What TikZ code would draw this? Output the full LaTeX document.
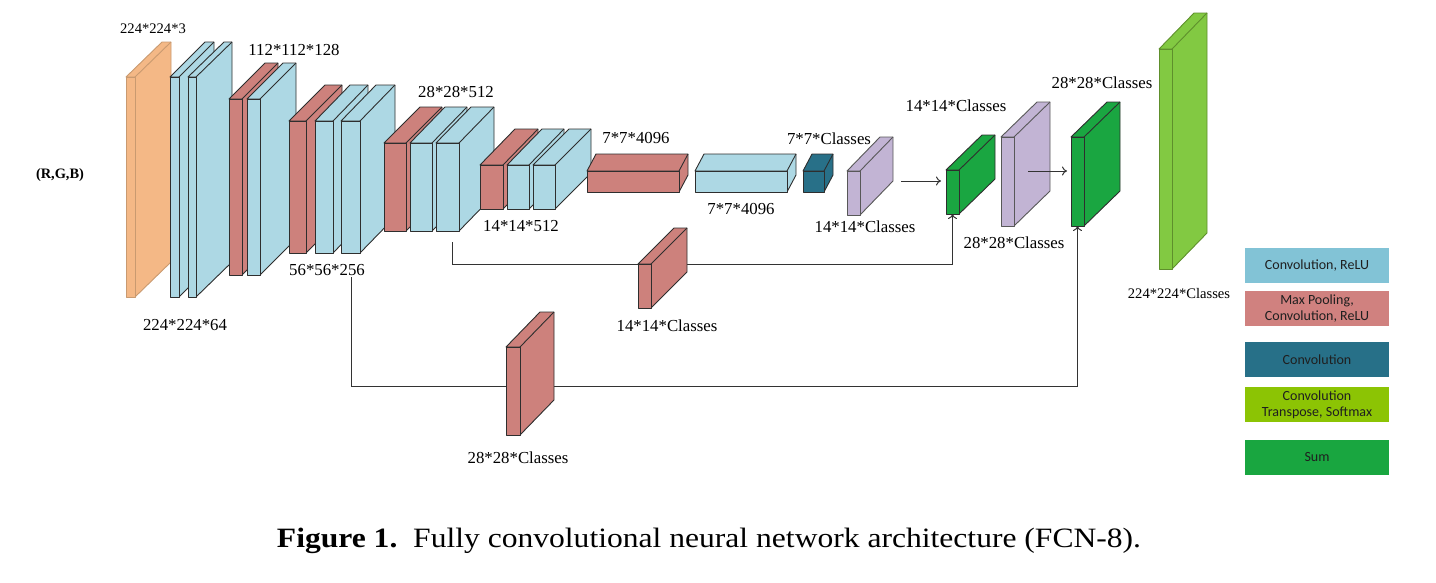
\documentclass[tikz,border=0pt]{standalone}
\usepackage{fontspec}
\setmainfont{Liberation Serif}
\newfontfamily\legfont{Carlito}
\usetikzlibrary{arrows.meta,backgrounds}
\definecolor{corange}{HTML}{F4B886}
\definecolor{corangeE}{HTML}{C99A70}
\definecolor{cblue}{HTML}{ADD8E4}
\definecolor{cred}{HTML}{CD817C}
\definecolor{cteal}{HTML}{287088}
\definecolor{cpurple}{HTML}{C2B4D4}
\definecolor{cgreen}{HTML}{1AA641}
\definecolor{clime}{HTML}{82C942}
\definecolor{climeE}{HTML}{5E8F2C}
\definecolor{cedge}{HTML}{2E2E2E}
\definecolor{lblue}{HTML}{82C3D6}
\definecolor{lred}{HTML}{D0817F}
\definecolor{lteal}{HTML}{277088}
\definecolor{llime}{HTML}{8CC404}
\definecolor{lgreen}{HTML}{19A640}
\definecolor{ltext}{HTML}{1F1F1F}
\newcommand{\cuboid}[8]{%
  \filldraw[cubeline,#8] (#2,#3) -- ++(#6,-#7) -- ++(#4,0) -- ++(0,#5) -- ++(-#6,#7) -- ++(0,-#5) -- cycle;
  \draw[cubeline,#8] ({#2+#4},#3) -- ++(#6,-#7);
  \node[cubeline,#8,draw,minimum width=#4pt,minimum height=#5pt,inner sep=0pt,outer sep=0pt,anchor=north west] (#1) at (#2,#3) {};
}
\begin{document}
\begin{tikzpicture}[x=1pt,y=-1pt,
  cubeline/.style={line width=0.9pt,line join=round},
  orangeC/.style={fill=corange,draw=corangeE},
  blueC/.style={fill=cblue,draw=cedge},
  redC/.style={fill=cred,draw=cedge},
  tealC/.style={fill=cteal,draw=cedge},
  purpleC/.style={fill=cpurple,draw=cedge!80},
  greenC/.style={fill=cgreen,draw=cedge},
  limeC/.style={fill=clime,draw=climeE},
  lab/.style={font=\fontsize{16.8}{19}\selectfont,inner sep=0pt},
  slab/.style={font=\fontsize{14.6}{17}\selectfont,inner sep=0pt},
  leg/.style={minimum width=144pt,minimum height=35pt,inner sep=0pt,align=center,text=ltext,font=\legfont\fontsize{14}{17}\selectfont},
  conn/.style={line width=1pt,draw=black!80},
  arr/.style={-{To[length=5pt,width=9pt]}}
]
\useasboundingbox (0,0) rectangle (1436,582);
% encoder
\cuboid{inp}{126}{77}{9}{220}{36}{35}{orangeC}
\cuboid{c11}{170}{77}{9}{220}{35}{35}{blueC}
\cuboid{c12}{188}{77}{8}{220}{36}{35}{blueC}
\cuboid{p2}{229}{99}{13}{176}{36}{36}{redC}
\cuboid{c21}{247}{99}{13}{176}{36}{36}{blueC}
\cuboid{p3}{289}{121}{17}{132}{36}{36}{redC}
\cuboid{c31}{315}{121}{18}{132}{35}{36}{blueC}
\cuboid{c32}{341}{121}{19}{132}{35}{36}{blueC}
\cuboid{p4}{384}{143}{22}{88}{36}{36}{redC}
\cuboid{c41}{410}{143}{22}{88}{35}{36}{blueC}
\cuboid{c42}{436}{143}{23}{88}{35}{36}{blueC}
\cuboid{p5}{480}{165}{23}{44}{35}{36}{redC}
\cuboid{c51}{507}{165}{22}{44}{35}{36}{blueC}
\cuboid{c52}{533}{165}{22}{44}{36}{36}{blueC}
\cuboid{fc6}{587}{171}{92}{21}{9}{17}{redC}
\cuboid{fc7}{695}{171}{92}{21}{9}{17}{blueC}
\cuboid{sc}{803}{171}{21}{21}{9}{17}{tealC}
\cuboid{up1}{847}{171}{13}{44}{33}{34}{purpleC}
\cuboid{g1}{946}{170}{13}{44}{36}{35}{greenC}
\cuboid{up2}{1001}{137}{13}{89}{36}{35}{purpleC}
\cuboid{g2}{1071}{137}{13}{89}{36}{35}{greenC}
\cuboid{out}{1159}{49}{13}{220}{35}{36}{limeC}
% skip score boxes
\cuboid{sk4}{638}{264}{13}{44}{36}{36}{redC}
\cuboid{sk3}{506}{347}{14}{88}{34}{35}{redC}
% connectors
\coordinate (s1) at (452,242);
\coordinate (s1b) at (452,264);
\coordinate (s2) at (351,277);
\coordinate (s2b) at (351,386);
\coordinate (a1) at (901,181);
\coordinate (a2) at (1028,171);
\begin{pgfonlayer}{background}
\draw[conn,arr] (s1) -- (s1b) -| (g1.south);
\draw[conn,arr] (s2) -- (s2b) -| (g2.south);
\end{pgfonlayer}
\draw[conn,arr,shorten >=5pt] (a1) -- (a1 -| g1.west);
\draw[conn,arr,shorten >=4pt] (a2) -- (a2 -| g2.west);
% labels
\node[slab] (t1) at (153,29) {224*224*3};
\node[font=\bfseries\fontsize{14.4}{17}\selectfont,inner sep=0pt] (t2) at (60,175) {(R,G,B)};
\node[lab] (t3) at (294,50) {112*112*128};
\node[lab] (t4) at (185,325) {224*224*64};
\node[lab] (t5) at (327,270) {56*56*256};
\node[lab] (t6) at (456,92) {28*28*512};
\node[lab] (t7) at (521,226) {14*14*512};
\node[lab] (t8) at (636,138) {7*7*4096};
\node[lab] (t9) at (741,209) {7*7*4096};
\node[lab] (t10) at (829,139) {7*7*Classes};
\node[lab] (t11) at (865,227) {14*14*Classes};
\node[lab] (t12) at (667,326) {14*14*Classes};
\node[lab] (t13) at (956,106) {14*14*Classes};
\node[lab] (t14) at (1102,83) {28*28*Classes};
\node[lab] (t15) at (1014,243) {28*28*Classes};
\node[slab] (t16) at (1179,293) {224*224*Classes};
\node[lab] (t17) at (518,458) {28*28*Classes};
% legend
\node[leg,fill=lblue] (l1) at (1317,265.5) {Convolution, ReLU};
\node[leg,fill=lred] (l2) at (1317,308.5) {Max Pooling,\\[-1pt]Convolution, ReLU};
\node[leg,fill=lteal] (l3) at (1317,359.5) {Convolution};
\node[leg,fill=llime] (l4) at (1317,404.5) {Convolution\\[-1pt]Transpose, Softmax};
\node[leg,fill=lgreen] (l5) at (1317,457.5) {Sum};
% caption
\node[inner sep=0pt,font=\fontsize{28}{32}\selectfont] (cap) at (709,541) {\resizebox{864pt}{\height}{\textbf{Figure 1.}\ \ Fully convolutional neural network architecture (FCN-8).}};
\end{tikzpicture}
\end{document}
